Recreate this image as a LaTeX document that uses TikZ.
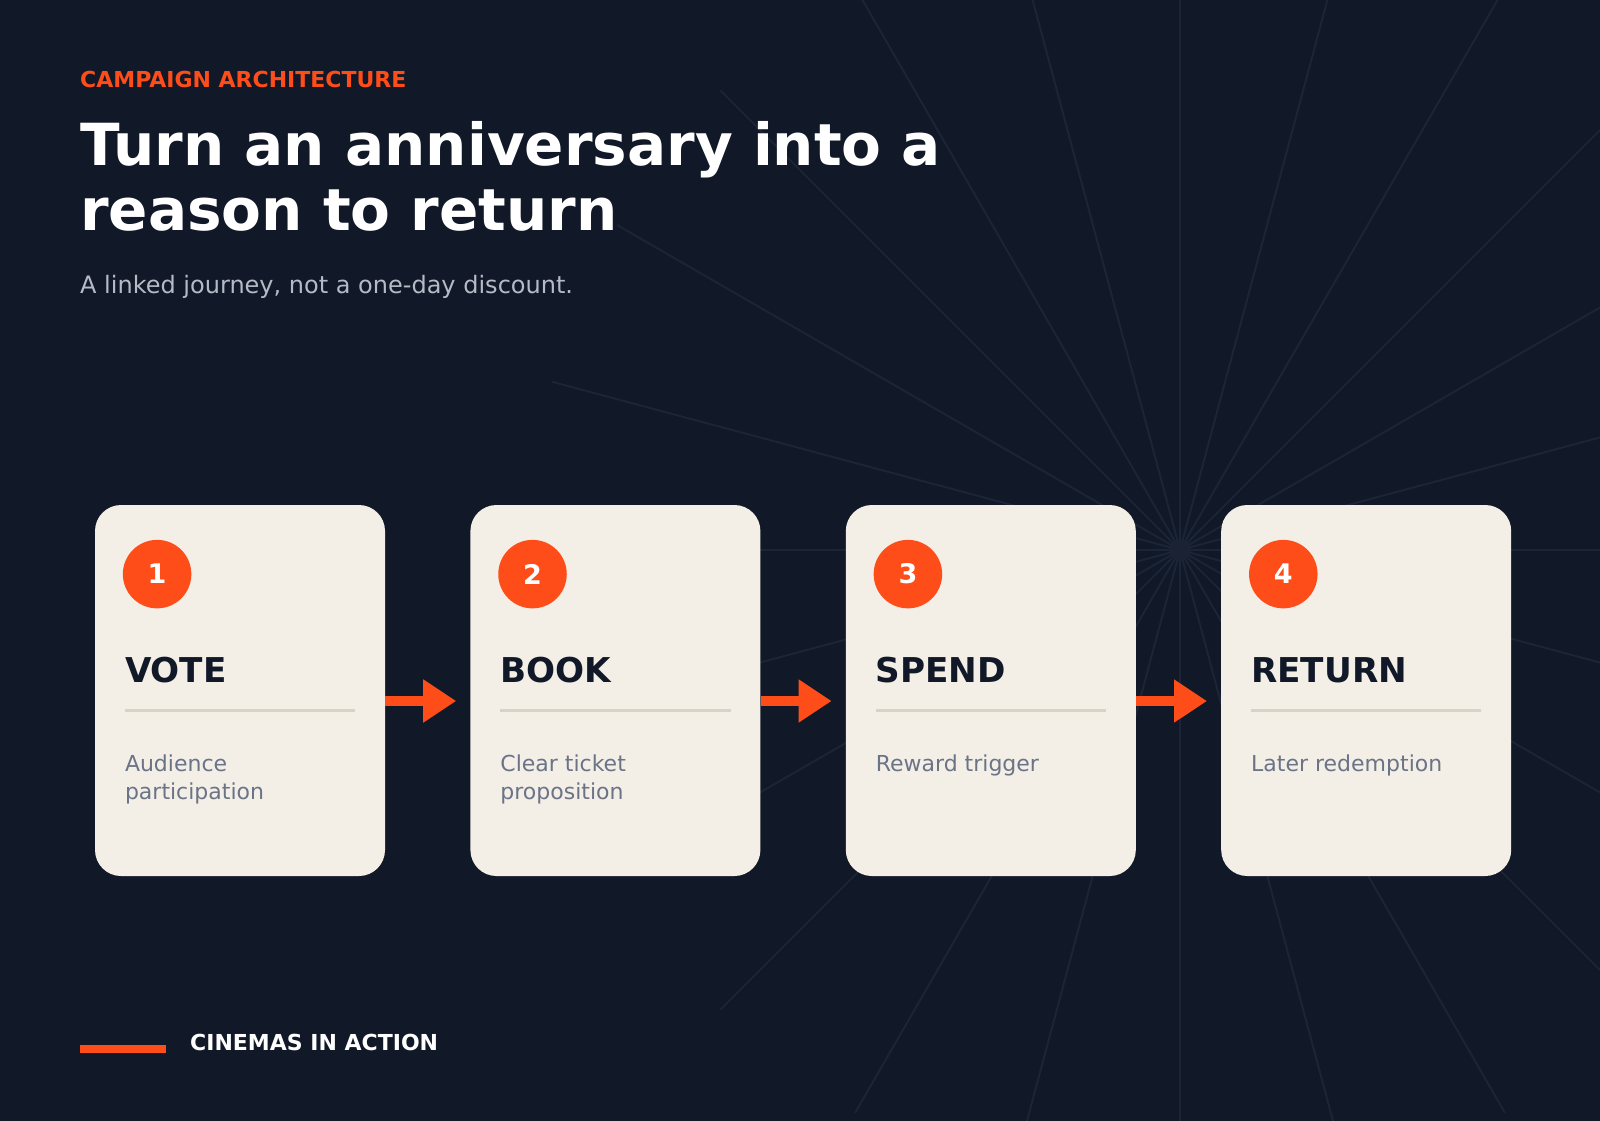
\documentclass[tikz,border=0pt]{standalone}
\usepackage{fontspec}
\setmainfont{DejaVu Sans}
\usetikzlibrary{arrows.meta, positioning}
\definecolor{night}{HTML}{111827}
\definecolor{rayline}{HTML}{1C2437}
\definecolor{hubdot}{HTML}{1A2234}
\definecolor{flame}{HTML}{FF4D1A}
\definecolor{cream}{HTML}{F3EFE7}
\definecolor{rulecol}{HTML}{D8D3C5}
\definecolor{mist}{HTML}{B5BAC6}
\definecolor{slate}{HTML}{6B7387}
\tikzset{
  card/.style = {fill=cream, rounded corners=26pt, minimum width=290pt, minimum height=371pt, inner sep=0pt},
  badge/.style = {circle, fill=flame, minimum size=68.5pt, inner sep=0pt, text=white, font=\fontsize{27}{27}\selectfont\bfseries},
  stage/.style = {anchor=base west, inner sep=0pt, text=night, font=\fontsize{34.2}{34.2}\selectfont\bfseries},
  blurb/.style = {anchor=north west, inner sep=0pt, text=slate, align=left, font=\fontsize{22}{28.3}\selectfont},
  divider/.style = {draw=rulecol, line width=3pt},
  flow/.style = {draw=flame, line width=10pt, -{Triangle[length=33pt,width=41pt]}},
  ray/.style = {draw=rayline, line width=2pt},
  eyebrow/.style = {anchor=base west, inner sep=0pt, font=\fontsize{22}{26}\selectfont\bfseries}
}
\begin{document}
\begin{tikzpicture}[x=1pt, y=-1pt, node distance=85pt]
\useasboundingbox (0,0) rectangle (1600,1120);
\fill[night] (-4,-4) rectangle (1604,1124);

\begin{scope}
\clip (-1,-1) rectangle (1601,1121);
\coordinate (hub) at (1180,550);
\foreach \a in {0,15,...,345}
  \draw[ray] (hub) -- ++(\a:650pt);
\fill[hubdot] (hub) circle (11);
\end{scope}

\node[eyebrow, text=flame] (kicker) at (80,87.3) {CAMPAIGN ARCHITECTURE};
\node[anchor=base west, inner sep=0pt, text=white, font=\fontsize{58}{65}\selectfont\bfseries] (title) at (80,165) {Turn an anniversary into a};
\node[anchor=base west, inner sep=0pt, text=white, font=\fontsize{58}{65}\selectfont\bfseries] (title2) at (80,230) {reason to return};
\node[anchor=base west, inner sep=0pt, text=mist, font=\fontsize{24}{30}\selectfont] (subtitle) at (80,293.3) {A linked journey, not a one-day discount.};

\node[card] (vote) at (240,690.5) {};
\node[card, right=of vote] (book) {};
\node[card, right=of book] (spend) {};
\node[card, right=of spend] (return) {};

\foreach \card/\num/\name/\info in {vote/1/VOTE/{Audience\\participation}, book/2/BOOK/{Clear ticket\\proposition}, spend/3/SPEND/{Reward trigger}, return/4/RETURN/{Later redemption}} {
  \node[badge] (\card-num) at ([xshift=62.3pt,yshift=-69.3pt]\card.north west) {\num};
  \node[stage] (\card-name) at ([xshift=30pt,yshift=-177.7pt]\card.north west) {\name};
  \draw[divider] ([xshift=30pt,yshift=-205.3pt]\card.north west) -- ([xshift=-30pt,yshift=-205.3pt]\card.north east);
  \node[blurb] (\card-info) at ([xshift=30pt,yshift=-249.3pt]\card.north west) {\info};
}

\draw[flow] ([yshift=-10.5pt]vote.east) -- ([xshift=-14pt,yshift=-10.5pt]book.west);
\draw[flow] ([yshift=-10.5pt]book.east) -- ([xshift=-14pt,yshift=-10.5pt]spend.west);
\draw[flow] ([yshift=-10.5pt]spend.east) -- ([xshift=-14pt,yshift=-10.5pt]return.west);

\fill[flame] (80,1045) rectangle (166,1053);
\node[eyebrow, text=white] (footer) at (190,1050) {CINEMAS IN ACTION};
\end{tikzpicture}
\end{document}
